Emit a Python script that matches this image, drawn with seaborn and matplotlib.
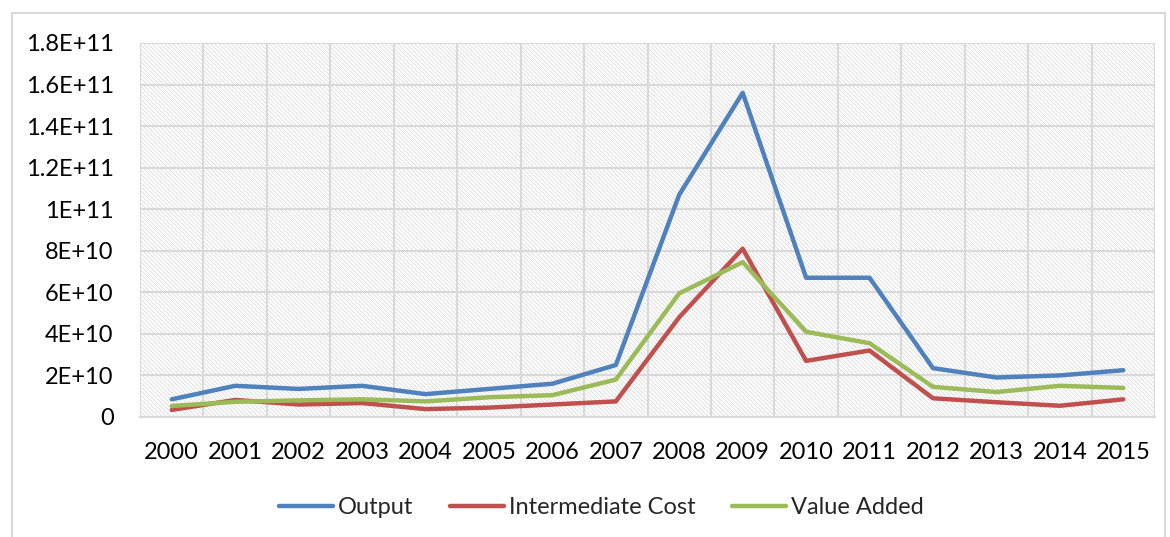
import pandas as pd
import seaborn as sns
import matplotlib.pyplot as plt
from matplotlib.patches import Rectangle
from matplotlib.lines import Line2D

# Data
years = ['2000', '2001', '2002', '2003', '2004', '2005', '2006', '2007',
         '2008', '2009', '2010', '2011', '2012', '2013', '2014', '2015']
output = [8.5e9, 1.5e10, 1.35e10, 1.5e10, 1.1e10, 1.35e10, 1.6e10, 2.5e10,
          1.07e11, 1.56e11, 6.7e10, 6.7e10, 2.35e10, 1.9e10, 2.0e10, 2.25e10]
intermediate_cost = [3.4e9, 8.2e9, 6.0e9, 6.7e9, 3.8e9, 4.5e9, 6.0e9, 7.5e9,
                     4.8e10, 8.1e10, 2.7e10, 3.2e10, 9.0e9, 7.1e9, 5.4e9, 8.5e9]
value_added = [5.3e9, 7.3e9, 8.0e9, 8.5e9, 7.5e9, 9.5e9, 1.05e10, 1.8e10,
               5.95e10, 7.45e10, 4.1e10, 3.55e10, 1.45e10, 1.2e10, 1.5e10, 1.4e10]
series_names = ['Output', 'Intermediate Cost', 'Value Added']
series_colors = ['#4F81BD', '#C0504D', '#9BBB59']
y_ticks = [0, 2e10, 4e10, 6e10, 8e10, 1e11, 1.2e11, 1.4e11, 1.6e11, 1.8e11]
y_tick_labels = ['0', '2E+10', '4E+10', '6E+10', '8E+10', '1E+11',
                 '1.2E+11', '1.4E+11', '1.6E+11', '1.8E+11']

# long-form table for seaborn
rows = []
for name, vals in zip(series_names, [output, intermediate_cost, value_added]):
    for i, v in enumerate(vals):
        rows.append({'idx': i, 'Year': years[i], 'Series': name, 'Value': v})
df = pd.DataFrame(rows)

sns.set_style('white')
plt.rcParams['font.family'] = ['Lato', 'DejaVu Sans']
plt.rcParams['hatch.linewidth'] = 0.6

fig = plt.figure(figsize=(11.7, 5.37), dpi=100)
ax = fig.add_axes([0.1197, 0.2235, 0.8675, 0.6965])

# outer chart border
fig.patches.append(Rectangle((12 / 1170, -0.01), 1153 / 1170, 1 - 13 / 537 + 0.01,
                             transform=fig.transFigure, fill=False,
                             edgecolor='#D9D9D9', linewidth=1.5, zorder=0))

# hatched plot background
ax.add_patch(Rectangle((0, 0), 1, 1, transform=ax.transAxes, fill=False,
                       edgecolor='#DADADA', linewidth=0, hatch='\\' * 8, zorder=0.5))

sns.lineplot(data=df, x='idx', y='Value', hue='Series', hue_order=series_names,
             palette=series_colors, linewidth=3.2, ax=ax, legend=False, zorder=3)

ax.set_xlim(-0.5, 15.5)
ax.set_ylim(0, 1.8e11)
ax.set_xticks(range(len(years)))
ax.set_xticklabels(years)
ax.set_xticks([i - 0.5 for i in range(len(years) + 1)], minor=True)
ax.set_yticks(y_ticks)
ax.set_yticklabels(y_tick_labels)
ax.tick_params(axis='both', which='both', length=0, labelsize=17, colors='black')
ax.tick_params(axis='x', pad=18)
ax.tick_params(axis='y', pad=19)
ax.grid(axis='y', which='major', color='#D9D9D9', linewidth=1.5)
ax.grid(axis='x', which='minor', color='#D9D9D9', linewidth=1.5)
ax.grid(axis='x', which='major', visible=False)
ax.set_axisbelow(True)
ax.set_xlabel('')
ax.set_ylabel('')
for side in ['left', 'top', 'right']:
    ax.spines[side].set_visible(False)
ax.spines['bottom'].set_color('#D9D9D9')
ax.spines['bottom'].set_linewidth(1.5)

handles = [Line2D([0], [0], color=c, linewidth=3.2) for c in series_colors]
fig.legend(handles, series_names, loc='center', bbox_to_anchor=(0.514, 0.055),
           ncol=3, frameon=False, fontsize=17, handlelength=2.3,
           handletextpad=0.2, columnspacing=1.55)

fig.savefig('out.png', dpi=100)
